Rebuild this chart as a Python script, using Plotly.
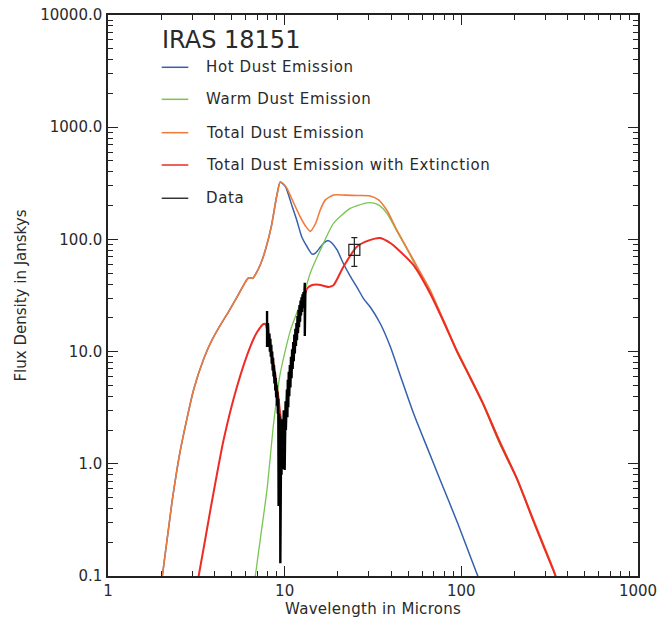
import plotly.graph_objects as go

# ---------------- data ----------------
total_lam = [1.95, 2.03, 2.3, 2.57, 3.05, 3.5, 3.88, 4.4, 4.82, 5.4, 6.12, 6.3, 6.6, 6.9, 7.3, 7.77,
             8.4, 9.0, 9.44, 9.8, 10.3, 11.0, 12.25, 13.2, 13.95, 15.0, 15.9, 17.0, 18.9, 22.0, 26.0,
             30.5, 34.0, 38.0, 43.2, 50.0, 57.0, 66.6, 80.0, 94.3, 112.0, 133.0, 165.0, 206.0, 260.0,
             332.0, 350.0]
total_flux = [0.07, 0.1, 0.45, 1.33, 4.55, 8.8, 12.7, 18.0, 22.7, 31.0, 44.0, 45.5, 45.0, 50.0, 60.0, 80.0,
              130.0, 240.0, 325.0, 315.0, 285.0, 228.0, 159.0, 130.0, 118.0, 140.0, 183.0, 225.0, 249.0, 248.0, 246.0,
              244.0, 225.0, 180.0, 121.0, 80.0, 55.0, 35.4, 18.5, 10.3, 6.0, 3.46, 1.6, 0.75, 0.3,
              0.115, 0.09]

hot_lam = [1.95, 2.03, 2.3, 2.57, 3.05, 3.5, 3.88, 4.4, 4.82, 5.4, 6.12, 6.3, 6.6, 6.9, 7.3, 7.77,
           8.4, 9.0, 9.44, 10.1, 11.0, 11.7, 12.5, 13.4, 14.3, 15.0, 15.9, 16.8, 17.7, 18.5, 19.8,
           21.5, 23.5, 25.6, 28.0, 30.5, 34.7, 39.6, 46.0, 53.6, 64.0, 75.9, 95.0, 124.0, 130.0]
hot_flux = [0.07, 0.1, 0.45, 1.33, 4.55, 8.8, 12.7, 18.0, 22.7, 31.0, 44.0, 45.5, 45.0, 50.0, 60.0, 80.0,
            130.0, 240.0, 325.0, 295.0, 199.0, 149.0, 105.0, 86.0, 74.0, 76.0, 85.0, 94.0, 97.5, 93.0, 80.5,
            61.0, 47.0, 37.8, 29.5, 25.0, 17.9, 11.1, 5.6, 2.82, 1.4, 0.718, 0.3, 0.1, 0.085]

warm_lam = [6.6, 6.82, 7.3, 7.94, 8.66, 9.44, 10.8, 12.8, 13.95, 15.9, 18.9, 23.5, 29.2, 32.0, 34.5,
            37.9, 43.2, 50.0, 57.0, 66.6, 80.0, 94.3, 112.0, 133.0, 165.0, 206.0, 260.0, 332.0, 350.0]
warm_flux = [0.07, 0.1, 0.22, 0.585, 2.3, 6.4, 15.6, 32.0, 50.0, 80.0, 139.0, 189.0, 212.0, 211.0, 200.0,
             171.0, 118.0, 78.0, 53.0, 34.5, 18.0, 10.0, 5.8, 3.36, 1.5, 0.73, 0.29, 0.112, 0.09]

ext_lam = [3.1, 3.26, 3.8, 4.51, 5.37, 6.39, 7.0, 7.6, 7.8, 8.0, 8.4, 8.85, 9.24, 9.6, 9.9, 10.3, 10.8,
           11.5, 12.2, 12.8, 13.4, 14.2, 15.6, 17.7, 18.9, 21.5, 25.6, 30.0, 34.7, 40.0, 43.2, 53.6,
           66.6, 80.0, 94.3, 112.0, 133.0, 165.0, 206.0, 260.0, 332.0, 350.0]
ext_flux = [0.07, 0.1, 0.39, 1.63, 4.87, 11.1, 15.0, 17.6, 17.5, 15.0, 10.0, 6.2, 3.8, 2.4, 2.3, 3.2, 6.5,
            12.5, 21.0, 29.0, 36.5, 39.0, 39.5, 37.7, 39.0, 57.0, 86.0, 98.0, 103.0, 92.0, 83.0, 59.0,
            33.0, 18.0, 10.1, 5.9, 3.4, 1.55, 0.74, 0.29, 0.112, 0.09]

spec_lam = [7.95, 7.95, 7.98, 8.01, 8.04, 8.08, 8.12, 8.16, 8.2, 8.25, 8.3, 8.35, 8.4, 8.45, 8.5, 8.55,
            8.6, 8.65, 8.7, 8.75, 8.8, 8.85, 8.9, 8.95, 9.0, 9.05, 9.1, 9.15, 9.2, 9.24, 9.28, 9.32,
            9.36, 9.4, 9.43, 9.45, 9.48, 9.52, 9.56, 9.6, 9.64, 9.68, 9.72, 9.76, 9.8, 9.84, 9.88,
            9.92, 9.96, 10.0, 10.04, 10.08, 10.12, 10.16, 10.2, 10.25, 10.3, 10.36, 10.42, 10.48,
            10.55, 10.62, 10.7, 10.78, 10.86, 10.94, 11.02, 11.1, 11.18, 11.26, 11.34, 11.42, 11.5,
            11.58, 11.66, 11.74, 11.82, 11.9, 11.98, 12.06, 12.14, 12.22, 12.3, 12.38, 12.46, 12.54,
            12.62, 12.7, 12.78, 12.86, 12.94, 13.0, 13.0, 13.05, 13.1]
spec_flux = [23.0, 11.0, 20.0, 13.0, 18.0, 12.0, 16.0, 11.0, 14.5, 10.0, 13.0, 9.0, 11.5, 7.8, 10.0, 6.8,
             8.8, 6.0, 7.6, 5.2, 6.6, 4.5, 5.8, 3.9, 5.0, 3.3, 4.4, 2.8, 3.8, 0.42, 2.8, 1.5,
             2.6, 0.8, 2.2, 0.13, 1.7, 0.5, 2.3, 0.8, 2.5, 1.0, 2.2, 0.9, 2.8, 1.2, 3.0,
             1.4, 2.6, 0.88, 2.9, 1.6, 3.6, 2.0, 4.2, 2.3, 4.6, 2.6, 5.6, 3.2,
             6.6, 4.0, 7.6, 4.8, 9.0, 5.8, 10.5, 7.0, 12.2, 8.2, 14.2, 9.6, 16.0,
             11.2, 18.0, 12.6, 20.8, 14.6, 23.5, 16.5, 26.0, 18.5, 28.5, 21.0, 30.5, 22.5,
             32.5, 24.5, 34.0, 26.0, 36.0, 41.0, 13.8, 30.0, 35.0]

phot_lam = [24.8]
phot_flux = [80.5]
phot_err = [23.0]

legend_names = ["Hot Dust Emission", "Warm Dust Emission", "Total Dust Emission",
                "Total Dust Emission with Extinction", "Data"]
legend_colors = ["#3560AE", "#78C552", "#F07A3A", "#EE2B25", "#333333"]

y_ticks = [0.1, 1, 10, 100, 1000, 10000]
y_ticktext = ["0.1", "1.0", "10.0", "100.0", "1000.0", "10000.0"]
x_ticks = [1, 10, 100, 1000]
x_ticktext = ["1", "10", "100", "1000"]

FONT = "DejaVu Sans"
TXT = "#2a2a2a"


def spaced(s, px):
    return '<span style="letter-spacing:%spx">%s</span>' % (px, s)


fig = go.Figure()
fig.add_trace(go.Scatter(x=hot_lam, y=hot_flux, mode="lines", line=dict(color=legend_colors[0], width=1.5, shape="spline", smoothing=0.6)))
fig.add_trace(go.Scatter(x=warm_lam, y=warm_flux, mode="lines", line=dict(color=legend_colors[1], width=1.3, shape="spline", smoothing=0.6)))
fig.add_trace(go.Scatter(x=total_lam, y=total_flux, mode="lines", line=dict(color=legend_colors[2], width=1.6, shape="spline", smoothing=0.6)))
fig.add_trace(go.Scatter(x=ext_lam, y=ext_flux, mode="lines", line=dict(color=legend_colors[3], width=2.0, shape="spline", smoothing=0.6)))
fig.add_trace(go.Scatter(x=spec_lam, y=spec_flux, mode="lines", line=dict(color="#000000", width=2.4)))
fig.add_trace(go.Scatter(x=phot_lam, y=phot_flux, mode="markers",
                         marker=dict(symbol="square-open", size=11, color="#222222", line=dict(width=1.2)),
                         error_y=dict(type="data", array=phot_err, color="#222222", thickness=1.2, width=3)))

minor_vals = [m * 10 ** e for e in range(-1, 4) for m in range(2, 10)]

axis_common = dict(type="log", showline=True, linecolor="#222222", linewidth=1.5, mirror="allticks",
                   ticks="inside", ticklen=10, tickwidth=1.2, tickcolor="#222222", showgrid=False,
                   zeroline=False, automargin=False, ticklabeloverflow="allow",
                   tickfont=dict(family=FONT, size=15, color=TXT), tickmode="array",
                   minor=dict(ticks="inside", ticklen=5, tickwidth=1, tickcolor="#222222",
                              tickmode="array", tickvals=minor_vals, showgrid=False))

fig.update_xaxes(range=[0, 3], tickvals=x_ticks, ticktext=x_ticktext, ticklabelstandoff=0, **axis_common)
fig.update_yaxes(range=[-1, 4], tickvals=y_ticks, ticktext=y_ticktext, ticklabelstandoff=1, **axis_common)

annotations = [
    dict(text="IRAS 18151", x=0.0975, y=0.9554, xref="paper", yref="paper", xanchor="left", yanchor="middle",
         showarrow=False, font=dict(family=FONT, size=24, color=TXT)),
    dict(text=spaced("Wavelength in Microns", 0.3), x=0.5, y=-0.0588, xref="paper", yref="paper", xanchor="center",
         yanchor="middle", showarrow=False, font=dict(family=FONT, size=15, color=TXT)),
    dict(text="Flux Density in Janskys", x=-0.166, y=0.5, xref="paper", yref="paper", xanchor="center",
         yanchor="middle", textangle=-90, showarrow=False, font=dict(family=FONT, size=15, color=TXT)),
]
shapes = []
legend_y = [0.9068, 0.8497, 0.7902, 0.7326, 0.6733]
for name, col, ly in zip(legend_names, legend_colors, legend_y):
    shapes.append(dict(type="line", xref="paper", yref="paper", x0=0.1013, x1=0.1515, y0=ly, y1=ly,
                       line=dict(color=col, width=1.5)))
    annotations.append(dict(text=spaced(name, 0.6), x=0.1811, y=ly, xref="paper", yref="paper", xanchor="left",
                            yanchor="middle", showarrow=False, font=dict(family=FONT, size=15, color=TXT)))

fig.update_layout(width=658, height=622, margin=dict(l=108, r=20, t=15, b=46),
                  paper_bgcolor="white", plot_bgcolor="white", showlegend=False,
                  hovermode=False, annotations=annotations, shapes=shapes)

# remove the default 8px page margin so the figure fills the 658x622 window exactly
fig.write_html("out.html", config={"displayModeBar": False},
               post_script="document.body.style.margin='0';")
